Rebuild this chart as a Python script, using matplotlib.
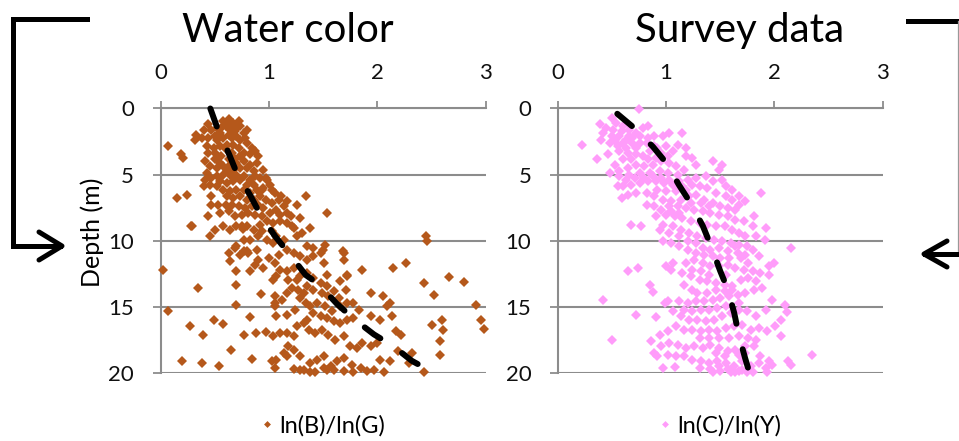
import numpy as np
import matplotlib
matplotlib.use("Agg")
import matplotlib.pyplot as plt

plt.rcParams['font.family'] = ['Lato', 'DejaVu Sans']

# ---- data ----
# Water color panel: ln(B)/ln(G) vs depth
wc_x = [0.58, 0.63, 0.67, 0.72, 0.73, 0.60, 0.64, 0.69, 0.77, 0.55, 0.50, 0.47, 0.44, 0.40, 0.33, 0.32, 0.38, 0.52, 0.58, 0.66,
        0.73, 0.80, 0.84, 0.87, 0.83, 0.77, 0.72, 0.67, 0.61, 0.55, 0.49, 0.44, 0.41, 0.46, 0.52, 0.58, 0.64, 0.70, 0.77, 0.80,
        0.86, 0.89, 0.95, 0.98, 0.92, 0.87, 0.83, 0.77, 0.70, 0.64, 0.58, 0.52, 0.47, 0.43, 0.41, 0.46, 0.40, 0.52, 0.58, 0.64,
        0.70, 0.77, 0.83, 0.89, 0.95, 1.01, 1.06, 1.09, 1.03, 0.97, 0.90, 0.84, 0.78, 0.72, 0.66, 0.60, 0.53, 0.47, 0.47, 0.55,
        0.63, 0.69, 0.75, 0.81, 0.87, 0.94, 1.01, 1.07, 1.14, 1.20, 1.26, 1.34, 1.29, 1.17, 1.10, 1.04, 0.98, 0.92, 0.86, 0.80,
        0.75, 0.70, 0.64, 0.58, 0.50, 0.46, 0.44, 0.29, 0.24, 0.15, 0.07, 0.19, 0.21, 1.23, 1.31, 1.38, 1.54, 1.35, 1.41, 1.48,
        1.52, 1.68, 1.69, 1.51, 1.41, 1.35, 1.29, 1.23, 1.17, 1.09, 1.04, 0.98, 0.90, 0.83, 0.77, 0.70, 0.80, 0.73, 0.63, 0.64,
        0.70, 0.83, 0.87, 0.95, 1.00, 1.06, 1.10, 1.17, 1.23, 1.29, 1.35, 1.41, 1.48, 1.54, 1.60, 1.66, 1.72, 1.71, 1.65, 1.55,
        1.49, 1.41, 1.35, 1.32, 1.27, 1.21, 1.17, 1.12, 1.06, 1.04, 1.07, 1.18, 1.26, 1.29, 1.34, 1.38, 1.44, 1.52, 1.58, 1.66,
        1.72, 1.78, 1.83, 1.78, 1.72, 1.66, 1.60, 1.54, 1.48, 1.41, 1.35, 1.32, 1.26, 1.23, 1.17, 1.10, 1.04, 1.07, 1.06, 1.17,
        1.24, 1.37, 1.43, 1.49, 1.55, 1.61, 1.69, 1.75, 1.81, 1.86, 1.94, 2.00, 2.03, 2.09, 2.12, 2.14, 2.17, 2.22, 2.19, 2.12,
        2.03, 1.97, 1.91, 1.85, 1.77, 1.69, 1.63, 1.57, 1.51, 1.44, 1.38, 1.32, 1.29, 1.23, 1.18, 1.14, 1.07, 1.03, 1.06, 1.17,
        1.43, 1.54, 1.69, 1.78, 2.06, 2.43, 2.32, 2.45, 2.46, 2.27, 2.15, 1.86, 1.94, 2.05, 2.43, 2.52, 2.66, 2.80, 2.91, 2.96,
        2.99, 2.60, 2.51, 2.61, 2.58, 2.58, 2.29, 1.94, 1.50, 1.69, 1.54, 1.72, 0.02, 0.35, 0.07, 0.27, 0.39, 0.49, 0.58, 0.70,
        0.70, 0.65, 0.84, 0.77, 0.88, 0.97, 0.83, 0.93, 1.06, 0.54, 0.38, 0.20, 1.23, 1.29, 1.38, 1.51, 1.60, 0.77, 0.69, 0.81,
        0.89, 0.90, 0.76, 0.28, 0.61, 0.66, 0.70, 0.56, 0.63, 0.70, 0.78, 0.60, 0.66, 0.73, 0.69, 0.63, 0.56, 0.50, 0.73, 0.67,
        0.61, 0.55, 0.73, 0.67, 0.61, 0.55, 0.80, 0.86, 0.92, 0.86, 0.73, 0.67, 0.61, 0.80, 0.95, 1.10, 1.17, 1.21, 1.26, 1.14,
        1.07, 1.03, 0.94, 0.67, 0.80, 0.52, 0.44, 0.43, 0.50, 0.90, 0.83, 0.97, 1.03, 1.11, 1.17, 0.94]
wc_y = [0.96, 0.83, 1.09, 0.96, 1.34, 1.34, 1.59, 1.72, 1.84, 1.84, 2.10, 1.59, 1.21, 1.59, 1.97, 2.35, 2.22, 2.35, 2.22, 2.22,
        2.35, 2.60, 2.98, 3.23, 3.48, 3.36, 2.98, 2.73, 2.73, 2.85, 2.98, 3.36, 3.99, 4.37, 4.49, 4.37, 4.24, 4.12, 3.99, 4.49,
        4.75, 4.12, 4.62, 5.38, 5.25, 5.13, 5.38, 5.13, 5.00, 5.00, 5.00, 5.13, 5.25, 4.87, 5.38, 5.76, 5.88, 5.88, 6.14, 6.26,
        6.14, 6.14, 6.39, 6.14, 6.01, 5.76, 6.39, 6.89, 7.15, 6.89, 7.27, 7.40, 7.53, 7.40, 7.27, 7.27, 7.27, 6.64, 7.27, 7.90,
        7.78, 8.16, 8.03, 7.90, 8.03, 8.16, 7.90, 7.65, 7.40, 8.16, 7.27, 6.64, 8.28, 8.66, 8.54, 8.66, 8.54, 8.79, 9.17, 8.91,
        8.91, 8.91, 9.17, 8.91, 9.17, 9.67, 8.16, 8.91, 6.52, 6.77, 2.85, 3.48, 3.74, 9.04, 9.42, 9.04, 7.90, 10.43, 10.56, 10.93,
        10.30, 10.81, 11.44, 11.69, 11.19, 11.44, 11.19, 10.93, 10.68, 11.06, 10.18, 9.92, 9.67, 9.92, 9.92, 10.43, 10.81, 11.06, 10.93, 11.57,
        12.32, 12.32, 11.82, 12.07, 11.31, 11.69, 12.20, 12.32, 12.07, 12.70, 12.45, 12.83, 13.21, 13.46, 13.84, 13.08, 12.70, 13.71, 14.34, 14.22,
        13.96, 13.71, 13.46, 13.96, 13.71, 13.59, 13.96, 14.47, 14.72, 12.95, 12.70, 12.95, 12.95, 14.34, 14.72, 14.97, 14.72, 14.97, 15.35, 14.97,
        14.72, 14.72, 15.23, 15.86, 15.98, 16.24, 16.11, 15.86, 15.73, 15.48, 15.98, 16.24, 16.49, 17.25, 16.99, 16.99, 17.25, 15.73, 14.97, 15.61,
        15.23, 16.74, 16.99, 16.74, 17.12, 17.50, 17.25, 18.01, 18.13, 17.75, 18.01, 17.75, 15.98, 14.97, 14.72, 15.73, 16.87, 17.12, 18.38, 19.14,
        19.02, 19.77, 19.90, 19.65, 19.39, 18.89, 19.14, 19.52, 18.76, 19.02, 19.27, 19.77, 18.76, 18.26, 18.01, 18.51, 19.02, 19.14, 19.65, 18.76,
        19.98, 19.77, 19.90, 19.97, 19.97, 19.98, 18.51, 9.67, 10.05, 11.69, 12.07, 12.20, 13.96, 14.22, 13.21, 14.09, 12.75, 13.16, 14.85, 15.98,
        16.69, 15.98, 16.36, 16.74, 17.63, 18.69, 19.27, 15.73, 10.68, 10.93, 12.58, 12.58, 12.20, 13.59, 15.35, 16.49, 17.12, 15.98, 16.29, 14.85,
        13.36, 18.26, 18.96, 17.12, 16.99, 16.94, 15.78, 14.07, 14.17, 19.47, 19.27, 19.09, 19.72, 19.77, 19.97, 19.65, 19.77, 10.81, 10.58, 10.93,
        10.68, 11.44, 9.12, 8.86, 1.09, 1.34, 1.46, 1.46, 1.97, 2.10, 2.22, 3.10, 3.36, 3.61, 3.86, 3.86, 3.61, 3.86, 4.49, 4.62,
        4.75, 4.12, 5.38, 5.51, 5.63, 5.51, 5.76, 5.76, 6.64, 6.89, 6.64, 6.77, 6.64, 6.89, 7.53, 8.03, 7.90, 8.91, 9.67, 9.92,
        9.67, 9.29, 9.29, 1.97, 1.59, 1.46, 2.22, 2.85, 3.36, 3.61, 4.24, 5.25, 6.14, 6.64, 7.02, 6.14]

# Survey data panel: ln(C)/ln(Y) vs depth
sv_x = [0.75, 0.50, 0.39, 0.45, 0.54, 0.60, 0.66, 0.72, 0.79, 0.83, 0.76, 0.69, 0.63, 0.57, 0.50, 0.42, 0.40, 0.48, 0.56, 0.63,
        0.72, 0.82, 0.89, 0.97, 1.03, 1.15, 1.11, 1.18, 1.06, 1.00, 0.92, 0.85, 0.79, 0.72, 0.65, 0.57, 0.46, 0.36, 0.22, 1.18,
        1.24, 1.28, 1.17, 1.09, 1.03, 0.95, 0.88, 0.80, 0.72, 0.65, 0.57, 0.48, 0.57, 0.66, 0.76, 0.85, 0.94, 1.02, 1.11, 1.20,
        1.28, 1.37, 1.43, 1.49, 1.52, 1.43, 1.52, 1.55, 1.61, 1.67, 1.61, 1.55, 1.46, 1.38, 1.31, 1.24, 1.15, 1.06, 0.98, 0.91,
        0.83, 0.76, 0.68, 0.60, 0.56, 0.59, 0.65, 0.72, 0.82, 0.89, 0.97, 1.05, 1.14, 1.21, 1.28, 1.35, 1.43, 1.50, 1.57, 1.64,
        1.67, 1.73, 1.88, 1.81, 1.80, 1.72, 1.64, 1.57, 1.49, 1.41, 1.34, 1.26, 1.18, 1.11, 1.03, 0.95, 0.89, 0.82, 1.00, 1.08,
        1.15, 1.23, 1.31, 1.38, 1.46, 1.54, 1.61, 1.67, 1.73, 1.83, 1.92, 1.91, 1.75, 1.67, 1.60, 1.52, 1.44, 1.37, 1.29, 1.21,
        1.14, 1.06, 0.97, 0.68, 0.77, 0.97, 1.05, 1.12, 1.20, 1.28, 1.35, 1.43, 1.50, 1.58, 1.66, 1.73, 1.80, 1.86, 2.00, 2.15,
        1.95, 1.87, 1.80, 1.72, 1.64, 1.57, 1.49, 1.41, 1.34, 1.26, 1.18, 1.06, 1.00, 1.05, 1.15, 1.23, 1.31, 1.38, 1.46, 1.54,
        1.61, 1.69, 1.76, 1.83, 1.95, 1.89, 1.81, 1.73, 1.66, 1.58, 1.50, 1.43, 1.35, 1.28, 1.20, 1.12, 1.02, 0.99, 1.24, 1.29,
        1.38, 0.85, 0.88, 0.65, 0.74, 0.42, 0.72, 0.91, 1.06, 1.14, 1.21, 1.29, 1.37, 1.44, 1.52, 1.60, 1.67, 1.75, 1.83, 1.92,
        1.98, 2.10, 2.12, 2.06, 2.01, 1.93, 1.86, 1.78, 1.70, 1.63, 1.55, 1.47, 1.40, 1.32, 1.24, 1.17, 1.09, 1.02, 0.94, 0.86,
        0.50, 0.95, 1.03, 1.11, 1.18, 1.26, 1.34, 1.41, 1.49, 1.57, 1.64, 1.73, 1.81, 1.87, 1.95, 2.06, 2.13, 2.15, 2.35, 1.98,
        1.92, 1.86, 1.78, 1.70, 1.63, 1.55, 1.47, 1.40, 1.32, 1.24, 1.17, 1.09, 1.02, 0.92, 0.89, 0.97, 1.08, 1.31, 1.43, 1.50,
        1.60, 1.67, 1.75, 1.80, 1.93, 1.41, 1.49, 1.57, 1.64, 1.46, 1.54, 1.67, 1.73, 1.70, 0.51, 0.59, 0.66, 0.76, 0.69, 0.60,
        0.53, 0.83, 0.89, 0.95, 1.02, 0.91, 0.83, 0.68, 0.60, 0.53, 0.63, 0.71, 0.80, 0.88, 0.95, 1.03, 1.12, 1.18, 1.09, 1.00,
        0.92, 1.32, 1.40, 1.23, 1.12, 1.05, 0.91, 0.94, 1.03, 1.12, 1.20, 1.28, 1.34, 1.41, 1.49, 1.57, 1.64, 1.69, 1.76, 1.55,
        1.40, 1.32, 1.24, 1.17, 1.46, 1.54, 1.61, 1.67, 1.55, 1.47, 1.40, 1.32, 1.24, 1.17, 1.58, 1.49, 1.40, 1.31, 1.67, 1.76,
        1.83]
sv_y = [0.05, 0.71, 1.21, 1.46, 1.09, 1.34, 1.59, 1.84, 1.46, 1.34, 2.10, 2.22, 2.35, 2.10, 2.10, 1.84, 2.35, 2.60, 2.85, 2.98,
        2.98, 2.60, 2.10, 2.10, 1.84, 1.84, 2.73, 2.98, 3.23, 2.85, 2.98, 3.23, 3.61, 3.48, 3.36, 3.23, 3.48, 3.79, 2.73, 3.61,
        3.74, 4.24, 4.62, 4.37, 4.12, 3.99, 4.24, 4.37, 4.24, 4.49, 4.75, 4.87, 5.13, 5.00, 4.87, 4.87, 4.75, 4.87, 5.00, 5.38,
        5.25, 5.13, 3.99, 4.62, 4.24, 5.51, 5.38, 5.88, 6.14, 6.64, 6.89, 6.64, 6.39, 6.01, 5.88, 5.76, 5.88, 5.76, 5.63, 5.51,
        5.51, 5.63, 5.76, 5.88, 5.88, 6.77, 6.52, 6.39, 6.39, 6.64, 6.89, 7.02, 6.89, 6.64, 6.52, 6.89, 7.15, 7.40, 7.53, 7.65,
        7.27, 7.02, 6.39, 8.11, 8.91, 8.54, 8.41, 8.16, 8.03, 7.90, 7.78, 7.65, 7.53, 7.40, 7.40, 7.65, 7.40, 7.27, 8.03, 8.16,
        8.28, 8.54, 8.66, 8.79, 8.91, 8.91, 9.17, 9.42, 9.67, 9.67, 9.04, 9.92, 10.43, 10.30, 10.18, 10.05, 9.92, 9.80, 9.67, 9.42,
        9.17, 8.91, 8.79, 8.79, 8.91, 10.05, 10.18, 10.43, 10.68, 10.93, 11.06, 11.19, 11.31, 11.31, 10.93, 11.06, 10.68, 11.19, 11.69, 10.56,
        11.94, 12.45, 12.32, 12.20, 12.07, 11.82, 11.94, 11.94, 11.69, 11.44, 11.69, 11.69, 11.94, 12.20, 12.45, 12.70, 12.95, 13.08, 13.21, 13.33,
        13.46, 12.95, 12.83, 13.08, 12.58, 13.59, 13.71, 13.96, 14.09, 14.22, 14.34, 14.47, 14.60, 14.60, 14.72, 14.60, 14.60, 14.72, 13.71, 13.96,
        13.96, 13.33, 13.89, 12.32, 12.07, 14.47, 15.61, 15.81, 15.35, 15.73, 15.98, 15.98, 16.11, 15.98, 15.73, 15.48, 15.23, 15.35, 15.73, 15.23,
        14.52, 14.90, 15.43, 15.98, 16.49, 16.87, 16.62, 16.74, 16.36, 16.49, 16.62, 16.87, 16.74, 16.87, 16.74, 16.74, 16.49, 16.87, 17.12, 17.63,
        17.55, 18.01, 17.75, 17.88, 18.13, 18.01, 18.13, 17.88, 18.13, 18.38, 18.26, 18.01, 18.01, 18.76, 19.14, 17.25, 19.14, 19.39, 18.69, 19.39,
        19.65, 19.27, 19.52, 19.77, 19.52, 19.27, 19.14, 19.27, 19.14, 19.02, 18.76, 18.76, 18.64, 18.76, 18.51, 19.65, 19.57, 19.65, 19.98, 19.90,
        19.98, 19.90, 19.97, 19.97, 19.98, 19.72, 19.52, 19.72, 19.98, 18.51, 18.76, 18.64, 18.51, 19.14, 1.59, 1.72, 2.10, 2.60, 2.60, 2.60,
        2.47, 2.22, 2.85, 3.36, 3.61, 3.74, 3.86, 3.86, 3.86, 4.24, 5.38, 5.25, 5.25, 5.13, 5.25, 5.38, 5.51, 6.14, 6.26, 6.26,
        6.14, 7.15, 7.40, 7.15, 7.90, 7.78, 8.16, 9.17, 9.42, 9.67, 10.05, 10.18, 10.56, 10.68, 10.56, 10.81, 10.43, 11.31, 11.69, 12.58,
        12.58, 12.32, 12.20, 13.33, 13.71, 13.84, 13.71, 14.72, 14.97, 15.10, 15.23, 15.23, 15.35, 15.23, 17.37, 17.37, 17.37, 17.37, 17.25, 17.37,
        17.50]

# dashed trend lines
wc_fit_x = [0.46, 0.53, 0.63, 0.70, 0.83, 0.92, 1.06, 1.17, 1.34, 1.46, 1.63, 1.78, 1.97, 2.15, 2.32, 2.52]
wc_fit_y = [0.0, 1.6, 3.4, 4.8, 6.6, 8.0, 9.7, 10.8, 12.6, 13.3, 14.8, 15.9, 17.1, 18.0, 19.1, 20.0]
sv_fit_x = [0.55, 0.71, 0.88, 1.00, 1.12, 1.23, 1.34, 1.41, 1.50, 1.57, 1.63, 1.67, 1.73, 1.77]
sv_fit_y = [0.4, 1.5, 2.9, 4.1, 5.8, 7.2, 8.9, 10.3, 12.3, 13.7, 15.5, 17.1, 18.9, 20.0]

titles = ["Water color", "Survey data"]
labels = ["ln(B)/ln(G)", "ln(C)/ln(Y)"]
colors = ["#B5581B", "#FF9CFA"]
x_ticks = [0, 1, 2, 3]
y_ticks = [0, 5, 10, 15, 20]

W, H = 959, 441
fig = plt.figure(figsize=(W / 100, H / 100), dpi=100)

grid_c = "#8C8C8C"
panels = [(wc_x, wc_y, wc_fit_x, wc_fit_y), (sv_x, sv_y, sv_fit_x, sv_fit_y)]
lefts = [160.5, 557.7]
axw = 325.0
ax_top, ax_bot = 108.5, 372.7

for i, (px, py, fx, fy) in enumerate(panels):
    ax = fig.add_axes([lefts[i] / W, 1 - ax_bot / H, axw / W, (ax_bot - ax_top) / H])
    ax.plot(px, py, linestyle="none", marker="D", ms=5.0, mew=0, color=colors[i],
            label=labels[i], clip_on=False, zorder=3)
    ax.plot(fx, fy, color="black", lw=4.3, dashes=(3.2, 4.4),
            dash_capstyle="round", zorder=4, clip_on=False)
    ax.set_xlim(0, 3)
    ax.set_ylim(20, 0)
    ax.set_xticks(x_ticks)
    ax.set_yticks(y_ticks)
    ax.xaxis.tick_top()
    ax.yaxis.grid(True, color=grid_c, lw=1.5)
    ax.set_axisbelow(True)
    for s in ["right", "bottom"]:
        ax.spines[s].set_visible(False)
    for s in ["left", "top"]:
        ax.spines[s].set_color(grid_c)
        ax.spines[s].set_linewidth(1.5)
    ax.tick_params(axis="x", direction="out", length=5, width=1.3, color=grid_c,
                   pad=13, labelsize=16, labelcolor="#111111")
    ax.tick_params(axis="y", direction="out", length=6, width=1.3, color=grid_c,
                   pad=13, labelsize=16, labelcolor="#111111")
    ax.legend(loc="center", bbox_to_anchor=(0.5, -0.2), frameon=False,
              handlelength=0.5, handletextpad=0.3, fontsize=17, markerscale=0.7)
    if i == 0:
        ax.set_ylabel("Depth (m)", fontsize=18)
        ax.yaxis.set_label_coords((104 - lefts[0]) / axw, (ax_bot - 232) / (ax_bot - ax_top))

fig.text(288 / W, 1 - 42 / H, titles[0], ha="center", va="baseline", fontsize=29)
fig.text(740 / W, 1 - 42 / H, titles[1], ha="center", va="baseline", fontsize=29)

# bracket arrows around the panels, drawn in pixel space
ov = fig.add_axes([0, 0, 1, 1], facecolor="none", zorder=10)
ov.set_xlim(0, W)
ov.set_ylim(H, 0)
ov.axis("off")
ov.plot([87, 13, 13, 60], [19, 19, 246, 246], color="black", lw=3.6, solid_joinstyle="miter")
ov.plot([39, 62, 39], [232, 246, 260], color="black", lw=3.6, solid_capstyle="round")
ov.plot([908, 959], [21, 21], color="black", lw=3.6)
ov.plot([957.5, 957.5], [21, 254], color="#999999", lw=0.9)
ov.plot([959, 925], [254, 254], color="black", lw=3.6)
ov.plot([947, 924, 947], [241, 254, 267], color="black", lw=3.6, solid_capstyle="round")

fig.savefig("out.png", dpi=100)
